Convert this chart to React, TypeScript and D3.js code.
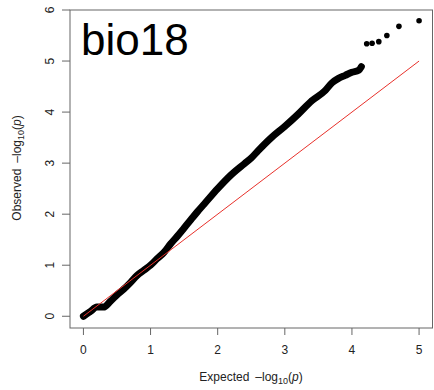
import React from 'react';
import * as d3 from 'd3';

const bandExpected = [0, 0.1, 0.2, 0.3, 0.4, 0.5, 0.6, 0.7, 0.8, 0.9, 1.0, 1.1, 1.2, 1.3, 1.4, 1.5, 1.6, 1.7, 1.8, 2.0, 2.2, 2.4, 2.5, 2.6, 2.8, 3.0, 3.2, 3.4, 3.6, 3.7, 3.8, 3.9, 4.0, 4.1, 4.14];
const bandObserved = [0, 0.09, 0.18, 0.18, 0.29, 0.42, 0.53, 0.66, 0.8, 0.9, 1.0, 1.13, 1.25, 1.42, 1.57, 1.73, 1.89, 2.05, 2.2, 2.5, 2.77, 2.99, 3.1, 3.24, 3.5, 3.72, 3.96, 4.22, 4.42, 4.57, 4.66, 4.72, 4.78, 4.82, 4.89];
const tailExpected = [4.22, 4.3, 4.4, 4.52, 4.7, 5.0];
const tailObserved = [5.34, 5.35, 5.38, 5.5, 5.68, 5.79];
const xTicks = [0, 1, 2, 3, 4, 5];
const yTicks = [0, 1, 2, 3, 4, 5, 6];
const title = 'bio18';

const W = 434;
const H = 390;
const box = { left: 70, right: 432.5, top: 10, bottom: 328 };

export default function App() {
  const x = d3.scaleLinear().domain([-0.2, 5.2]).range([box.left, box.right]);
  const y = d3.scaleLinear().domain([-0.23, 6.0]).range([box.bottom, box.top]);

  const band = bandExpected.map((e, i) => [e, bandObserved[i]] as [number, number]);
  const tail = tailExpected.map((e, i) => [e, tailObserved[i]] as [number, number]);

  const line = d3.line<[number, number]>()
    .x(d => x(d[0]))
    .y(d => y(d[1]))
    .curve(d3.curveMonotoneX);

  const axisColor = '#666';
  const font = '"Liberation Sans", Arial, sans-serif';

  return (
    <svg width={W} height={H} style={{ position: 'absolute', left: 0, top: 0, background: '#fff' }} fontFamily={font}>
      <rect x={0} y={0} width={W} height={H} fill="#fff" />

      {/* points: dense band + sparse tail */}
      <path d={line(band) || ''} fill="none" stroke="#000" strokeWidth={7} strokeLinecap="round" strokeLinejoin="round" />
      {band.map((d, i) => (
        <circle key={'b' + i} cx={x(d[0])} cy={y(d[1])} r={2.8} fill="#000" />
      ))}
      {tail.map((d, i) => (
        <circle key={'t' + i} cx={x(d[0])} cy={y(d[1])} r={2.8} fill="#000" />
      ))}

      {/* y = x reference */}
      <line x1={x(0)} y1={y(0)} x2={x(5)} y2={y(5)} stroke="#e8312b" strokeWidth={1} />

      {/* box */}
      <rect x={box.left} y={box.top} width={box.right - box.left} height={box.bottom - box.top} fill="none" stroke={axisColor} strokeWidth={1} />

      {/* x axis */}
      {xTicks.map(t => (
        <g key={'x' + t}>
          <line x1={x(t)} x2={x(t)} y1={box.bottom} y2={box.bottom + 7} stroke={axisColor} />
          <text x={x(t)} y={354} textAnchor="middle" fontSize={12} fill="#222">{t}</text>
        </g>
      ))}

      {/* y axis */}
      {yTicks.map(t => (
        <g key={'y' + t}>
          <line x1={box.left - 8} x2={box.left} y1={y(t)} y2={y(t)} stroke={axisColor} />
          <text transform={`translate(53.5,${y(t)}) rotate(-90)`} textAnchor="middle" fontSize={12} fill="#222">{t}</text>
        </g>
      ))}

      {/* axis titles */}
      <text x={251} y={381} textAnchor="middle" fontSize={12} fill="#222">
        Expected<tspan dx={6}>–log</tspan><tspan fontSize={9} dy={3}>10</tspan><tspan dy={-3}>(</tspan><tspan fontStyle="italic">p</tspan>)
      </text>
      <text transform={`translate(21,168) rotate(-90)`} textAnchor="middle" fontSize={12} fill="#222">
        Observed<tspan dx={6}>–log</tspan><tspan fontSize={9} dy={3}>10</tspan><tspan dy={-3}>(</tspan><tspan fontStyle="italic">p</tspan>)
      </text>

      <text x={81} y={55} fontSize={44} fill="#000">{title}</text>
    </svg>
  );
}
